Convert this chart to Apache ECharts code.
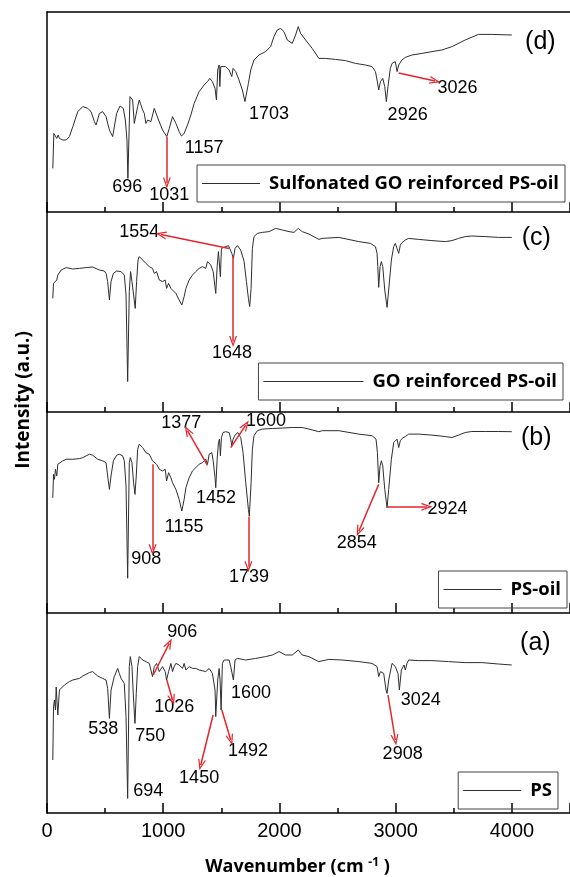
<!DOCTYPE html>
<html>
<head>
<meta charset="utf-8">
<script src="https://cdn.jsdelivr.net/npm/echarts@6/dist/echarts.min.js"></script>
<style>
  html, body { margin: 0; padding: 0; background: #fff; }
  #main { width: 570px; height: 877px; }
</style>
</head>
<body>
<div id="main"></div>
<script>
// panels top to bottom: (d) (c) (b) (a)
const panelNames = ['Sulfonated GO reinforced PS-oil', 'GO reinforced PS-oil', 'PS-oil', 'PS'];
const panelTags = ['(d)', '(c)', '(b)', '(a)'];
const xMin = 0, xMax = 4500, xStep = 1000;

// spectra: [wavenumber, intensity 0-100 within panel]
const specD = [[50,21.8],[59,39.3],[73,38.5],[84,36.8],[96,38.5],[107,36.8],[122,37.7],[136,36],[150,36.8],[165,36],[193,37.7],[222,42.7],[265,50.2],[308,52.7],[351,51.8],[379,50.2],[408,45.2],[422,43.5],[451,49.3],[479,50.2],[508,47.7],[537,41],[565,37.7],[579,36.8],[599,49.3],[628,53],[657,51.8],[674,46],[688,36],[696,16.8],[714,57.7],[725,58.5],[737,56],[751,44.3],[765,43.5],[780,52.7],[794,56],[808,55.2],[823,51],[837,49.3],[851,44.3],[866,46],[894,45.2],[923,51.8],[937,51],[960,46],[994,41],[1031,37.7],[1052,41.8],[1080,47.7],[1109,44.3],[1137,40.2],[1157,38],[1180,39.3],[1209,43.5],[1238,48.5],[1266,54.3],[1309,60.2],[1352,63.5],[1381,65.2],[1401,66.8],[1423,65.2],[1446,61.8],[1458,56],[1469,71],[1481,73.5],[1487,62.7],[1495,72.7],[1509,73.5],[1538,72.7],[1567,71],[1590,67.7],[1601,71.8],[1624,70.2],[1652,66],[1681,61],[1703,55.2],[1733,64.3],[1753,71],[1781,76],[1824,78.5],[1881,80.2],[1924,82.7],[1953,87.7],[1981,91],[2010,91.8],[2039,90.2],[2067,86],[2110,84.3],[2139,88.5],[2162,92.7],[2182,89.3],[2225,86],[2282,81.8],[2339,76.8],[2396,76.8],[2482,76.3],[2568,75.7],[2654,74.3],[2740,73.5],[2797,72.7],[2826,70.2],[2840,66],[2854,61],[2869,65.2],[2889,66.8],[2906,62.7],[2920,55.2],[2934,62.7],[2954,71.8],[2969,74.3],[2983,75.2],[2997,75.2],[3012,70.2],[3026,73.5],[3040,74.3],[3054,76],[3069,75.7],[3083,77.3],[3140,78.5],[3226,79.3],[3312,80.2],[3398,81],[3484,82.7],[3598,86],[3713,88.8],[3827,88.8],[3999,88.5]];

const specC = [[50,56.8],[56,64.3],[64,65.2],[73,63.5],[84,66],[93,68.5],[107,69.3],[122,71],[136,71.5],[165,72.2],[222,71.5],[279,71.8],[336,72.2],[393,72.5],[450,71],[493,70.5],[508,69.3],[522,65.2],[537,56],[551,65.2],[571,69.3],[599,70.5],[637,70.2],[665,68.5],[680,58.5],[694,15.2],[708,60.2],[719,70.2],[731,65.2],[745,58.5],[759,51.8],[771,65.2],[783,76],[794,77.7],[823,76],[851,74.3],[880,72.7],[908,71.8],[923,69.3],[943,70.2],[966,66],[994,65.2],[1017,66],[1029,61.8],[1046,64.3],[1066,61.8],[1080,61],[1109,59.3],[1137,56],[1160,53.5],[1180,57.7],[1195,61.8],[1223,66],[1252,68.5],[1280,70.2],[1309,71.8],[1338,72.7],[1366,71.8],[1381,75.2],[1395,76],[1409,73.5],[1430,70.2],[1452,59.3],[1464,72.7],[1475,80.2],[1484,81],[1492,67.7],[1501,81.8],[1515,81.8],[1538,82.7],[1561,83.2],[1572,81.8],[1590,79.3],[1604,76.8],[1618,81.8],[1638,83.2],[1667,81],[1696,75.2],[1716,65.2],[1733,56.8],[1744,52.7],[1756,61.8],[1767,81.8],[1781,87.7],[1810,89.3],[1853,89.8],[1910,90.2],[1967,91.8],[2025,91],[2082,90.2],[2125,89.8],[2162,91.8],[2196,90.2],[2253,89],[2339,86.3],[2368,86.8],[2511,87.3],[2683,85.2],[2783,84.3],[2826,82.7],[2840,79.3],[2846,72.7],[2854,62.3],[2866,72.7],[2877,75.2],[2889,72.7],[2906,61],[2926,52.3],[2940,61],[2963,76],[2983,82.7],[2997,84.3],[3012,83.5],[3026,79.3],[3040,83.5],[3055,84.7],[3069,85.2],[3083,86],[3112,86.8],[3198,86.3],[3312,85.7],[3426,85.2],[3484,85.7],[3541,86.8],[3598,87.7],[3655,88],[3770,87.7],[3884,87.3],[3999,87.3]];

const specB = [[50,57.3],[56,69],[64,66.5],[73,71.5],[84,68.2],[93,74],[107,74.8],[136,75.7],[165,76.5],[222,76.5],[279,76.8],[308,77.3],[365,79],[393,78.5],[436,76.5],[479,75.7],[508,74.8],[522,68.2],[537,61.5],[551,68.2],[571,75.7],[599,78.5],[622,79],[651,78.2],[665,75.7],[680,63.2],[694,17.3],[708,74.8],[717,77.3],[731,74.8],[745,64.8],[757,59],[768,68.2],[780,81.5],[794,84],[823,82.3],[851,79.8],[880,79],[908,75.7],[923,76.5],[943,74],[966,71.5],[994,70.7],[1017,71.5],[1029,65.7],[1046,69.8],[1066,67.3],[1080,64.8],[1094,64],[1109,61.5],[1137,56.5],[1160,50.7],[1180,56.5],[1195,62.3],[1223,67.3],[1252,70.7],[1280,72.3],[1309,74],[1338,74.8],[1366,76.5],[1381,74],[1395,79],[1418,79.8],[1430,75.7],[1446,67.3],[1452,62.3],[1464,76.5],[1475,84.8],[1484,86.5],[1492,78.2],[1501,87.3],[1515,89.8],[1538,90.2],[1567,89.8],[1581,86.5],[1590,83.2],[1601,86.5],[1618,88.5],[1641,89.8],[1667,87.3],[1687,79.8],[1710,64.8],[1733,51.5],[1741,48.2],[1756,64.8],[1767,81.5],[1781,88.2],[1810,90.7],[1853,91.5],[1939,91.8],[2025,92],[2110,92.3],[2196,92.3],[2253,91.5],[2339,90.2],[2368,90.7],[2511,90.7],[2683,89],[2797,88.2],[2831,86.5],[2843,79.8],[2854,64.8],[2866,73.2],[2877,75.7],[2889,73.2],[2906,61.5],[2926,52.3],[2940,61.5],[2963,76.5],[2983,84.8],[2997,85.7],[3012,86.5],[3026,82.3],[3040,85.7],[3055,86.8],[3069,86.2],[3083,87.8],[3112,89],[3198,89],[3312,88.5],[3426,87.8],[3484,87.3],[3541,88.5],[3598,89.8],[3655,90.3],[3770,90.3],[3884,90.3],[3999,90.2]];

const specA = [[50,26.5],[56,53],[64,56.5],[73,51.5],[79,63],[93,49],[107,61.5],[150,64],[193,65.7],[222,66.5],[279,67.3],[308,68.5],[365,70.2],[393,70.7],[436,68.5],[479,67.3],[508,66.5],[522,62.3],[537,47.3],[551,61.5],[579,68.2],[608,72.3],[622,69.8],[637,67.3],[651,66.5],[665,64.8],[680,48.2],[694,7.3],[708,73.2],[717,78.2],[731,73.2],[745,56.5],[757,44.8],[768,59.8],[780,73.2],[794,78.2],[823,76.5],[851,75.7],[880,74.8],[908,68.2],[923,73.2],[943,74.8],[966,70.7],[994,73.2],[1017,70.7],[1029,66.5],[1046,70.7],[1066,74.8],[1080,70.7],[1094,73.2],[1109,74.8],[1137,74],[1166,72.3],[1180,74.8],[1195,71.5],[1223,73.2],[1252,72.3],[1280,72.3],[1309,71.5],[1366,70.7],[1395,72.3],[1423,69.8],[1446,61.5],[1452,48.2],[1469,66.5],[1481,72.3],[1489,66.5],[1498,51.5],[1509,74.8],[1524,76.5],[1567,76.5],[1581,73.2],[1604,66.5],[1618,76.5],[1638,77.3],[1710,76.5],[1796,77.3],[1881,78.2],[1939,79],[1996,80.7],[2053,79],[2110,79],[2162,81.5],[2196,79],[2253,78.2],[2339,75.7],[2425,76.8],[2539,76.5],[2683,75.7],[2797,74.8],[2840,73.2],[2854,68.2],[2869,70.7],[2897,69.8],[2917,61.5],[2926,59.8],[2940,66.5],[2969,74.8],[2997,73.2],[3020,69.8],[3032,61.5],[3049,71.5],[3060,70.7],[3072,74],[3083,71.5],[3097,74.8],[3112,76.5],[3198,76.2],[3312,76.2],[3455,75.7],[3598,75.2],[3741,75.2],[3884,74.5],[3999,74]];

// peak labels: [wavenumber, intensity, text]
const labelsD = [[691,12.5,'696'],[1052,8.5,'1031'],[1352,32,'1157'],[1910,49,'1703'],[3103,48.5,'2926'],[3533,62,'3026']];
const labelsC = [[794,90,'1554'],[1592,29.5,'1648']];
const labelsB = [[1156,94.5,'1377'],[1884,95.5,'1600'],[1455,57,'1452'],[1180,43,'1155'],[854,27,'908'],[1738,18,'1739'],[2665,35,'2854'],[3446,51.5,'2924']];
const labelsA = [[1163,90.5,'906'],[1094,53,'1026'],[1755,60,'1600'],[485,42,'538'],[888,38.5,'750'],[871,11,'694'],[1309,17.5,'1450'],[1729,31,'1492'],[3215,56.5,'3024'],[3060,29.5,'2908']];

// red arrows: [from wn, from y, to wn, to y]
const arrowsD = [[1031,37.5,1031,14.5],[3026,69.5,3339,65.5]];
const arrowsC = [[1567,81.8,980,88.8],[1601,77.7,1601,35.2]];
const arrowsB = [[1381,73.5,1209,90.7],[1581,82.3,1710,93.5],[908,74,908,31.5],[1733,48,1733,23],[2854,64,2683,40.7],[2934,52.8,3269,52.8]];
const arrowsA = [[914,69,1052,84.8],[1031,66.5,1080,56.5],[1429,49,1323,24],[1504,51.5,1581,36.5],[2934,59,2997,36.5]];

const spectra = [specD, specC, specB, specA];
const peakLabels = [labelsD, labelsC, labelsB, labelsA];
const arrows = [arrowsD, arrowsC, arrowsB, arrowsA];

// layout
const gridTops = [12, 212, 412, 613];
const gridHeights = [200, 200, 201, 200];
const tagAt = [[4245, 85], [4210, 87], [4210, 87], [4202, 85]];
const legendRight = [5, 7, 3, 12];
const legendTop = [165, 363, 571, 772];
const legendLineLen = [58, 100, 58, 58];

const ink = '#000';
const lineCol = '#2e2e2e';
const red = '#e5252b';
const titleFont = 'Open Sans';
const arrowHead = 'path://M5,0 L10,10 L8.4,10 L5,3.2 L1.6,10 L0,10 Z';

const chart = echarts.init(document.getElementById('main'));

const idx = [0, 1, 2, 3];

const option = {
  animation: false,
  backgroundColor: '#fff',
  grid: idx.map(i => ({ left: 47, width: 527, top: gridTops[i], height: gridHeights[i] })),
  xAxis: idx.map(i => ({
    type: 'value', gridIndex: i, min: xMin, max: xMax, interval: xStep, position: 'bottom',
    axisLine: { show: true, onZero: false, lineStyle: { color: ink, width: 1.5 } },
    axisTick: { show: true, inside: true, length: 10, lineStyle: { color: ink, width: 1.5 } },
    minorTick: { show: true, splitNumber: 2, length: 5, lineStyle: { color: ink, width: 1.5 } },
    splitLine: { show: false },
    axisLabel: {
      show: i === 3, showMaxLabel: false, margin: 8, formatter: v => String(v),
      fontFamily: 'Liberation Sans', fontSize: 20, color: ink
    },
    name: i === 3 ? 'Wavenumber (cm {sup|-1} )' : '',
    nameLocation: 'middle', nameGap: 44,
    nameTextStyle: {
      fontFamily: titleFont, fontWeight: 'bold', fontSize: 18, color: ink, padding: [0, 22, 0, 0],
      rich: { sup: { fontFamily: titleFont, fontWeight: 'bold', fontSize: 12, color: ink, verticalAlign: 'top', padding: [0, 0, 8, 0] } }
    }
  })).concat([{
    type: 'value', gridIndex: 0, min: xMin, max: xMax, position: 'top',
    axisLine: { show: true, onZero: false, lineStyle: { color: ink, width: 1.5 } },
    axisTick: { show: false }, axisLabel: { show: false }, splitLine: { show: false }
  }]),
  yAxis: idx.map(i => ({
    type: 'value', gridIndex: i, min: 0, max: 100,
    axisLine: { show: true, lineStyle: { color: ink, width: 1.5 } },
    axisTick: { show: false }, axisLabel: { show: false }, splitLine: { show: false }
  })),
  legend: idx.map(i => ({
    data: [panelNames[i]], right: legendRight[i], top: legendTop[i],
    selectedMode: false, icon: 'rect', itemWidth: legendLineLen[i], itemHeight: 1,
    padding: [9, 6, 9, 5], borderColor: '#444', borderWidth: 1, borderRadius: 0,
    textStyle: { fontFamily: titleFont, fontWeight: 'bold', fontSize: 18.5, color: ink, padding: [0, 0, 0, 4] }
  })),
  series: idx.map(i => ({
    type: 'line', name: panelNames[i], xAxisIndex: i, yAxisIndex: i,
    data: spectra[i], symbol: 'none', silent: true,
    lineStyle: { color: lineCol, width: 1 }, itemStyle: { color: lineCol }
  })).concat(idx.map(i => ({
    type: 'scatter', xAxisIndex: i, yAxisIndex: i, symbolSize: 0, silent: true,
    itemStyle: { opacity: 1, color: 'transparent' },
    data: peakLabels[i].map(p => ({ value: [p[0], p[1]], name: p[2] })).concat([{
      value: tagAt[i], name: panelTags[i], label: { fontSize: 25 }
    }]),
    label: {
      show: true, position: 'inside', formatter: p => p.name,
      fontFamily: 'Liberation Sans', fontSize: 18, color: ink
    },
    markLine: {
      silent: true, animation: false,
      symbol: ['none', arrowHead], symbolSize: [8, 11],
      label: { show: false },
      lineStyle: { color: red, width: 1.5, type: 'solid', opacity: 1 },
      data: arrows[i].map(a => [{ coord: [a[0], a[1]] }, { coord: [a[2], a[3]] }])
    }
  }))),
  graphic: [{
    type: 'text', x: 24, y: 400, rotation: Math.PI / 2,
    style: {
      text: 'Intensity (a.u.)', fontFamily: titleFont, fontWeight: 'bold', fontSize: 19,
      fill: ink, align: 'center', verticalAlign: 'middle'
    }
  }]
};

chart.setOption(option);
</script>
</body>
</html>
